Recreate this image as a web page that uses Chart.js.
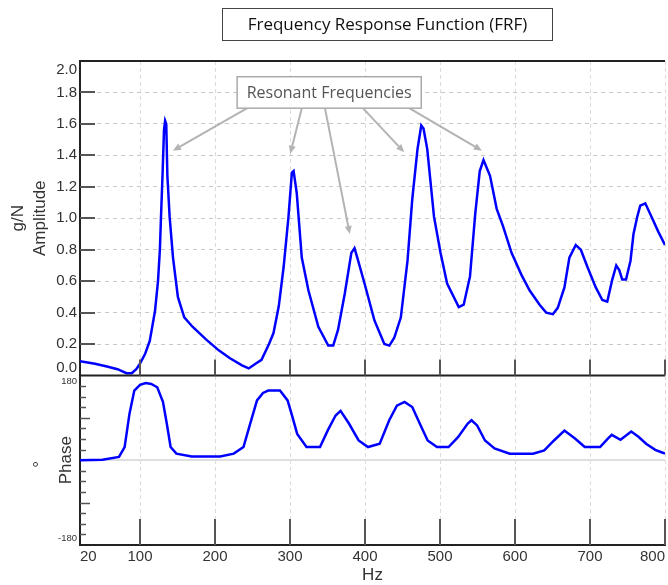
<!DOCTYPE html>
<html>
<head>
<meta charset="utf-8">
<title>Frequency Response Function (FRF)</title>
<script src="https://cdn.jsdelivr.net/npm/chart.js@4.4.0/dist/chart.umd.min.js"></script>
<style>
  html, body { margin: 0; padding: 0; background: #fff; overflow: hidden; }
  #frf { display: block; }
</style>
</head>
<body>
<canvas id="frf" width="668" height="585"></canvas>
<script>
// amplitude trace, g/N against Hz
const freqHz = [
  20, 40, 56, 70, 82, 89, 95, 100, 107, 113, 120, 124, 126.5, 128, 130, 132, 133.5, 135, 136.5, 139.5,
  144, 150.5, 159, 170, 188, 205, 220, 236, 245, 254, 262, 272, 278, 285, 291.5, 298, 302.5, 304.8, 309, 315.7,
  324.6, 337.8, 351, 357.6, 364, 373, 381.8, 386, 389.7, 399.4, 412.6, 425.8, 432.5, 439, 447.8, 456.7, 463, 470, 475, 478,
  483, 492, 500.7, 509.5, 525, 531.6, 540, 547, 553, 558, 566.7, 575.6, 584, 595.4, 608.6, 619.6, 632.8, 641.6, 650.5, 657,
  665.9, 672.5, 681, 687.8, 696.6, 707.7, 716.5, 723, 729.7, 735, 739, 743, 748, 754, 758, 763, 767, 773.7, 782, 791, 800
];
const amplitude = [
  0.09, 0.075, 0.057, 0.04, 0.015, 0.015, 0.04, 0.075, 0.14, 0.22, 0.41, 0.60, 0.80, 1.01, 1.27, 1.56, 1.62, 1.60, 1.27, 1.01,
  0.75, 0.50, 0.37, 0.31, 0.23, 0.16, 0.11, 0.064, 0.045, 0.075, 0.10, 0.20, 0.27, 0.44, 0.69, 1.01, 1.29, 1.30, 1.16, 0.75,
  0.54, 0.31, 0.19, 0.19, 0.29, 0.52, 0.78, 0.81, 0.75, 0.585, 0.35, 0.20, 0.19, 0.24, 0.37, 0.73, 1.12, 1.44, 1.59, 1.57,
  1.44, 1.01, 0.78, 0.585, 0.435, 0.45, 0.63, 1.03, 1.30, 1.37, 1.27, 1.06, 0.95, 0.78, 0.64, 0.54, 0.45, 0.40, 0.39, 0.43,
  0.56, 0.75, 0.83, 0.80, 0.69, 0.56, 0.48, 0.47, 0.61, 0.70, 0.67, 0.61, 0.61, 0.73, 0.90, 1.01, 1.08, 1.095, 1.01, 0.915, 0.83
];

// phase trace, degrees against Hz
const phaseFreqHz = [
  20, 50, 72, 79.5, 86, 92.4, 100, 107.7, 115, 123, 130.6, 135.7, 140.8, 148.5, 169, 207, 225, 238, 245.7, 256,
  264, 271, 286.6, 296.8, 302, 309.6, 322, 340, 350.5, 360.8, 367.4, 378.6, 391.5, 404, 419.6, 432.3, 442.5, 452.7, 463, 473,
  483.5, 496, 511.4, 524, 537, 542, 549.5, 560, 572.7, 593, 624, 639, 652, 665.9, 680, 693, 713.4, 723.8, 729, 740.7,
  755, 764.6, 774.8, 787, 797, 800
];
const phaseDeg = [
  0, 1, 7, 28, 99, 148, 160, 164, 162, 155, 124, 78, 28, 14, 8, 8, 14, 28, 71, 127,
  143, 148, 148, 127, 99, 56, 28, 28, 64, 95, 105, 78, 42, 28, 35, 85, 116, 124, 113, 78,
  42, 28, 28, 49, 78, 85, 74, 42, 25, 14, 14, 21, 42, 63, 46, 28, 28, 46, 54, 43.5,
  61, 50, 35, 22, 16, 14
];

const xTickValues = [20, 100, 200, 300, 400, 500, 600, 700, 800];
const ampTickValues = [0, 0.2, 0.4, 0.6, 0.8, 1.0, 1.2, 1.4, 1.6, 1.8, 2.0];
const phaseTickValues = [-180, -157.5, -135, -112.5, -90, -67.5, -45, -22.5, 0, 22.5, 45, 67.5, 90, 112.5, 135, 157.5, 180];
const phaseLabelValues = [-180, 180];

// callout: box span in Hz / g/N, arrows from box bottom to each peak
const calloutHz = [229.5, 475];
const calloutAmp = [1.70, 1.90];
const arrowFromHz = [243, 315.7, 346.6, 397.2, 459];
const arrowToHz = [144, 300.4, 379.7, 452.3, 555.8];
const arrowToAmp = [1.43, 1.41, 0.90, 1.42, 1.43];

const SANS = "'Liberation Sans', Arial, sans-serif";
const CAL = "'Open Sans', 'Noto Sans', sans-serif";

function fitFont(ctx, text, width, family, start) {
  let size = start;
  ctx.font = size + 'px ' + family;
  while (ctx.measureText(text).width > width && size > 6) {
    size -= 0.25;
    ctx.font = size + 'px ' + family;
  }
  return size;
}

const frfDecor = {
  id: 'frfDecor',
  afterDraw(chart) {
    const ctx = chart.ctx;
    const x = chart.scales.x, amp = chart.scales.amp, ph = chart.scales.phase;
    const area = chart.chartArea;
    const line = (x1, y1, x2, y2) => { ctx.beginPath(); ctx.moveTo(x1, y1); ctx.lineTo(x2, y2); ctx.stroke(); };
    ctx.save();

    // panel frame
    ctx.strokeStyle = '#222';
    ctx.lineWidth = 2;
    line(area.left, area.top, area.right, area.top);
    line(area.left, amp.bottom, area.right, amp.bottom);

    // inward tick marks
    ctx.strokeStyle = '#555';
    ctx.lineWidth = 2;
    xTickValues.forEach(v => {
      if (v === 20) return;
      const px = Math.round(x.getPixelForValue(v));
      line(px, amp.bottom, px, amp.bottom - 16);
      line(px, ph.bottom, px, ph.bottom - 26);
    });
    ampTickValues.forEach(v => {
      if (v === 0 || v === 2) return;
      const py = Math.round(amp.getPixelForValue(v));
      line(area.left, py, area.left + 15, py);
    });
    ctx.lineWidth = 1.5;
    phaseTickValues.forEach(v => {
      if (Math.abs(v) === 180 || v === 0) return;
      const py = Math.round(ph.getPixelForValue(v)) + 0.5;
      line(area.left, py, area.left + (Math.abs(v) === 90 ? 10 : 6), py);
    });

    // y tick labels
    ctx.fillStyle = '#333';
    ctx.textAlign = 'right';
    ctx.textBaseline = 'middle';
    ctx.font = '15px ' + SANS;
    ampTickValues.forEach(v => {
      let py = amp.getPixelForValue(v);
      py = Math.min(Math.max(py, amp.top + 8.5), amp.bottom - 8);
      ctx.fillText(v.toFixed(1), area.left - 3, py);
    });
    ctx.font = '9.5px ' + SANS;
    phaseLabelValues.forEach(v => {
      let py = ph.getPixelForValue(v);
      py = Math.min(Math.max(py, ph.top + 6), ph.bottom - 7);
      ctx.fillText(String(v), area.left - 3, py);
    });

    // axis titles
    ctx.textAlign = 'center';
    ctx.font = '17px ' + SANS;
    const ampMid = (amp.top + amp.bottom) / 2;
    const phMid = (ph.top + ph.bottom) / 2;
    const vText = (text, cx, cy) => {
      ctx.save(); ctx.translate(cx, cy); ctx.rotate(-Math.PI / 2); ctx.fillText(text, 0, 0); ctx.restore();
    };
    vText('g/N', 18, ampMid);
    vText('Amplitude', 40, ampMid);
    vText('Phase', 66, phMid);
    vText('°', 40, phMid + 4);
    ctx.fillText('Hz', (area.left + area.right) / 2, 575);

    // title box
    ctx.strokeStyle = '#444';
    ctx.lineWidth = 1;
    ctx.fillStyle = '#fff';
    ctx.fillRect(222.5, 8.5, 330, 32);
    ctx.strokeRect(222.5, 8.5, 330, 32);
    ctx.fillStyle = '#111';
    const title = 'Frequency Response Function (FRF)';
    fitFont(ctx, title, 316, CAL, 17);
    ctx.fillText(title, 387.5, 25);

    // resonance callout
    const bx1 = x.getPixelForValue(calloutHz[0]), bx2 = x.getPixelForValue(calloutHz[1]);
    const by1 = amp.getPixelForValue(calloutAmp[1]), by2 = amp.getPixelForValue(calloutAmp[0]);
    ctx.strokeStyle = '#b3b3b3';
    ctx.fillStyle = '#b3b3b3';
    ctx.lineWidth = 2;
    arrowFromHz.forEach((fromHz, i) => {
      const sx = x.getPixelForValue(fromHz), sy = by2;
      const ex = x.getPixelForValue(arrowToHz[i]), ey = amp.getPixelForValue(arrowToAmp[i]);
      const ang = Math.atan2(ey - sy, ex - sx);
      const head = 8, half = 3.5;
      const hx = ex - head * Math.cos(ang), hy = ey - head * Math.sin(ang);
      line(sx, sy, hx, hy);
      ctx.beginPath();
      ctx.moveTo(ex, ey);
      ctx.lineTo(hx + half * Math.sin(ang), hy - half * Math.cos(ang));
      ctx.lineTo(hx - half * Math.sin(ang), hy + half * Math.cos(ang));
      ctx.closePath();
      ctx.fill();
    });
    ctx.fillStyle = '#fff';
    ctx.fillRect(bx1, by1, bx2 - bx1, by2 - by1);
    ctx.strokeStyle = '#aaa';
    ctx.lineWidth = 1.5;
    ctx.strokeRect(bx1, by1, bx2 - bx1, by2 - by1);
    ctx.fillStyle = '#555';
    const note = 'Resonant Frequencies';
    fitFont(ctx, note, 166, CAL, 16);
    ctx.fillText(note, (bx1 + bx2) / 2, (by1 + by2) / 2 + 1);

    ctx.restore();
  }
};

new Chart(document.getElementById('frf'), {
  type: 'line',
  data: {
    datasets: [
      {
        label: 'Amplitude',
        data: freqHz.map((f, i) => ({ x: f, y: amplitude[i] })),
        yAxisID: 'amp',
        borderColor: '#0000ff',
        borderWidth: 2.5,
        pointRadius: 0,
        tension: 0
      },
      {
        label: 'Phase',
        data: phaseFreqHz.map((f, i) => ({ x: f, y: phaseDeg[i] })),
        yAxisID: 'phase',
        borderColor: '#0000ff',
        borderWidth: 2.5,
        pointRadius: 0,
        tension: 0
      }
    ]
  },
  options: {
    responsive: false,
    animation: false,
    layout: { padding: { top: 61, left: 0, right: 0, bottom: 0 } },
    plugins: {
      legend: { display: false },
      tooltip: { enabled: false }
    },
    scales: {
      x: {
        type: 'linear',
        position: 'bottom',
        min: 20,
        max: 800,
        afterBuildTicks: s => { s.ticks = xTickValues.map(v => ({ value: v })); },
        afterFit: s => { s.height = 40; },
        ticks: {
          align: 'inner',
          autoSkip: false,
          maxRotation: 0,
          padding: 3,
          color: '#333',
          font: { size: 15, family: SANS }
        },
        grid: { color: '#dcdcdc', lineWidth: 1, drawTicks: false },
        border: { display: true, color: '#222', width: 2, dash: [4, 3] }
      },
      // phase listed before amp: stacked left axes are placed in reverse order
      phase: {
        type: 'linear',
        position: 'left',
        stack: 'frf',
        stackWeight: 169.5,
        min: -180,
        max: 180,
        afterBuildTicks: s => { s.ticks = phaseTickValues.map(v => ({ value: v })); },
        afterFit: s => { s.width = 80; },
        ticks: { display: false },
        grid: {
          color: c => (c.tick && c.tick.value === 0 ? '#dedede' : 'rgba(0,0,0,0)'),
          lineWidth: 2,
          drawTicks: false
        },
        border: { display: true, color: '#222', width: 2 }
      },
      amp: {
        type: 'linear',
        position: 'left',
        stack: 'frf',
        stackWeight: 314.5,
        min: 0,
        max: 2,
        afterBuildTicks: s => { s.ticks = ampTickValues.map(v => ({ value: v })); },
        afterFit: s => { s.width = 80; },
        ticks: { display: false },
        grid: { color: '#c8c8c8', lineWidth: 1, drawTicks: false },
        border: { display: true, color: '#222', width: 2, dash: [4, 4] }
      }
    }
  },
  plugins: [frfDecor]
});
</script>
</body>
</html>
